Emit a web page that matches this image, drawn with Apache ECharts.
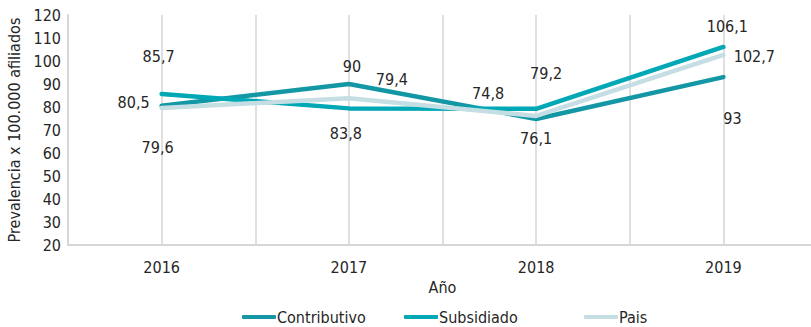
<!DOCTYPE html>
<html>
<head>
<meta charset="utf-8">
<script src="https://cdn.jsdelivr.net/npm/echarts@6/dist/echarts.min.js"></script>
<style>
  html, body { margin: 0; padding: 0; background: #fff; }
  #chart { width: 811px; height: 327px; }
  #chart text { font-stretch: condensed !important; }
</style>
</head>
<body>
<div id="chart"></div>
<script>
// Prevalence per 100,000 members by regime, 2016-2019
const years = [2016, 2017, 2018, 2019];
const contributivo = [80.5, 90, 74.8, 93];
const subsidiado = [85.7, 79.4, 79.2, 106.1];
const pais = [79.6, 83.8, 76.1, 102.7];
const yTicks = { min: 20, max: 120, step: 10 };

// Label placement (pixel offsets from each point)
const labelOffsets = {
  contributivo: [[-28, -3], [3, -18], [-48, -25], [9, 41]],
  subsidiado: [[-3, -37], [43, -29], [10, -35], [4, -20]],
  pais: [[-4, 40], [-3, 35], [0, 23], [31, 2]]
};

const FONT = '"Liberation Sans Narrow", "DejaVu Sans Condensed", "DejaVu Sans", sans-serif';
const FS = 16;
const TEXT = '#262626';
const GRID_GRAY = '#d6d6d6';

function fmt(v) {
  return String(v).replace('.', ',');
}

function makeSeries(name, values, color, offsets) {
  return {
    name: name,
    type: 'line',
    data: values.map((v, i) => ({
      value: [years[i], v],
      label: { offset: offsets[i] }
    })),
    symbol: 'circle',
    symbolSize: 0,
    showSymbol: true,
    lineStyle: { color: color, width: 4.5, cap: 'round', join: 'round' },
    itemStyle: { color: color },
    label: {
      show: true,
      position: 'inside',
      align: 'center',
      verticalAlign: 'middle',
      fontFamily: FONT,
      fontSize: FS,
      color: TEXT,
      formatter: p => fmt(p.value[1])
    },
    emphasis: { disabled: true },
    animation: false
  };
}

function legendAt(name, left) {
  return {
    data: [name],
    left: left,
    top: 309,
    icon: 'roundRect',
    itemWidth: 34,
    itemHeight: 4,
    itemGap: 0,
    padding: 0,
    textStyle: { fontFamily: FONT, fontSize: FS, color: TEXT, padding: [0, 0, 0, -4] },
    selectedMode: false
  };
}

const chart = echarts.init(document.getElementById('chart'), null, { renderer: 'svg' });
chart.setOption({
  animation: false,
  backgroundColor: '#ffffff',
  grid: { left: 68, right: -6, top: 15, bottom: 82, containLabel: false, outerBoundsMode: 'none' },
  legend: [
    legendAt('Contributivo', 242),
    legendAt('Subsidiado', 404),
    legendAt('Pais', 584)
  ],
  xAxis: {
    type: 'value',
    min: 2015.5,
    max: 2019.5,
    interval: 0.5,
    name: 'Año',
    nameLocation: 'middle',
    nameGap: 33,
    nameTextStyle: { fontFamily: FONT, fontSize: FS, color: TEXT },
    axisLine: { show: true, lineStyle: { color: GRID_GRAY, width: 2 } },
    axisTick: { show: false },
    axisLabel: {
      fontFamily: FONT,
      fontSize: FS,
      color: TEXT,
      margin: 14,
      showMinLabel: false,
      showMaxLabel: false,
      formatter: v => (years.indexOf(v) >= 0 ? String(v) : '')
    },
    splitLine: { show: true, lineStyle: { color: GRID_GRAY, width: 1.5 } }
  },
  yAxis: {
    type: 'value',
    min: yTicks.min,
    max: yTicks.max,
    interval: yTicks.step,
    name: 'Prevalencia x 100.000 afiliados',
    nameLocation: 'middle',
    nameRotate: 90,
    nameGap: 43,
    nameTextStyle: { fontFamily: FONT, fontSize: FS, color: TEXT },
    axisLine: { show: true, lineStyle: { color: GRID_GRAY, width: 2 } },
    axisTick: { show: false },
    axisLabel: { fontFamily: FONT, fontSize: FS, color: TEXT, margin: 7 },
    splitLine: { show: false }
  },
  series: [
    makeSeries('Contributivo', contributivo, '#1497a5', labelOffsets.contributivo),
    makeSeries('Subsidiado', subsidiado, '#00a8b6', labelOffsets.subsidiado),
    makeSeries('Pais', pais, '#c4dee3', labelOffsets.pais)
  ]
});
</script>
</body>
</html>
